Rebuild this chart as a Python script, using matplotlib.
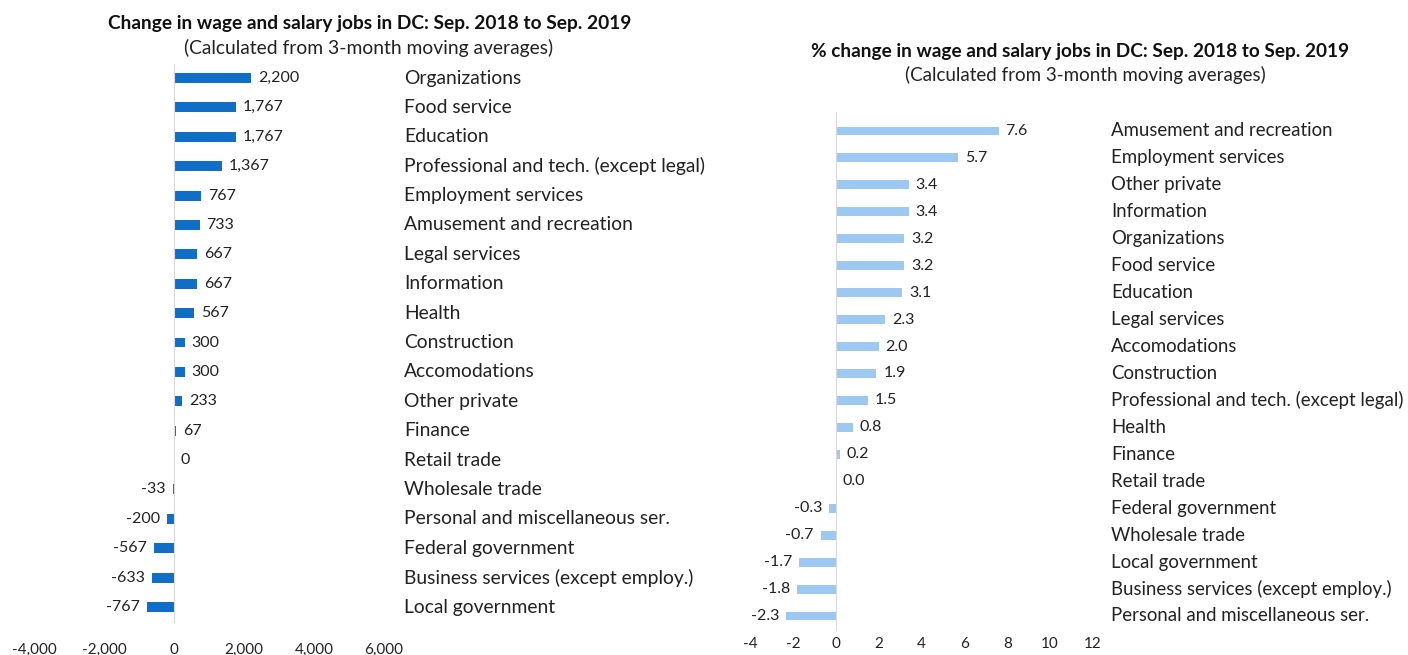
import matplotlib
matplotlib.use("Agg")
import matplotlib.pyplot as plt
import matplotlib.transforms as mtransforms
from matplotlib.ticker import FuncFormatter, MultipleLocator

plt.rcParams['font.family'] = ['Lato', 'DejaVu Sans']
plt.rcParams['axes.unicode_minus'] = False

# ── Datos ─────────────────────────────────────────────────
left_cats = ['Organizations', 'Food service', 'Education',
             'Professional and tech. (except legal)', 'Employment services',
             'Amusement and recreation', 'Legal services', 'Information',
             'Health', 'Construction', 'Accomodations', 'Other private',
             'Finance', 'Retail trade', 'Wholesale trade',
             'Personal and miscellaneous ser.', 'Federal government',
             'Business services (except employ.)', 'Local government']
left_vals = [2200, 1767, 1767, 1367, 767, 733, 667, 667, 567, 300, 300, 233,
             67, 0, -33, -200, -567, -633, -767]

right_cats = ['Amusement and recreation', 'Employment services', 'Other private',
              'Information', 'Organizations', 'Food service', 'Education',
              'Legal services', 'Accomodations', 'Construction',
              'Professional and tech. (except legal)', 'Health', 'Finance',
              'Retail trade', 'Federal government', 'Wholesale trade',
              'Local government', 'Business services (except employ.)',
              'Personal and miscellaneous ser.']
right_vals = [7.6, 5.7, 3.4, 3.4, 3.2, 3.2, 3.1, 2.3, 2.0, 1.9, 1.5, 0.8, 0.2,
              0.0, -0.3, -0.7, -1.7, -1.8, -2.3]

left_title = 'Change in wage and salary jobs in DC: Sep. 2018 to Sep. 2019'
right_title = '% change in wage and salary jobs in DC: Sep. 2018 to Sep. 2019'
subtitle = '(Calculated from 3-month moving averages)'

W, H = 1408, 655
fig = plt.figure(figsize=(W / 100, H / 100), dpi=100)


def px_axes(x0, x1, y0, y1):
    # caja en pixeles (origen arriba a la izquierda) -> fraccion de figura
    return fig.add_axes([x0 / W, 1 - y1 / H, (x1 - x0) / W, (y1 - y0) / H])


def panel(ax, cats, vals, color, xlim, step, fmt_tick, fmt_val,
          row0_px, rowN_px, top_px, bot_px, label_x_px, bar_h, pad_tick, cat_fs):
    n = len(cats)
    pos = list(range(n))
    ax.barh(pos, vals, height=bar_h, color=color)
    ax.set_xlim(*xlim)
    sp = (rowN_px - row0_px) / (n - 1)
    ax.set_ylim((bot_px - row0_px) / sp, (top_px - row0_px) / sp)
    ax.xaxis.set_major_locator(MultipleLocator(step))
    ax.xaxis.set_major_formatter(FuncFormatter(fmt_tick))
    ax.tick_params(axis='x', length=0, pad=pad_tick, labelsize=11, colors='#222222')
    ax.set_yticks([])
    for s in ['top', 'right', 'bottom']:
        ax.spines[s].set_visible(False)
    ax.spines['left'].set_position(('data', 0))
    ax.spines['left'].set_color('#D9D9D9')
    ax.patch.set_alpha(0)

    for i, v in enumerate(vals):
        if v < 0:
            ax.annotate(fmt_val(v), (v, i), xytext=(-5, 0), textcoords='offset points',
                        ha='right', va='center', fontsize=11.5, color='#222222')
        else:
            ax.annotate(fmt_val(v), (v, i), xytext=(5, 0), textcoords='offset points',
                        ha='left', va='center', fontsize=11.5, color='#222222')

    tr = mtransforms.blended_transform_factory(fig.transFigure, ax.transData)
    for i, c in enumerate(cats):
        ax.text(label_x_px / W, i, c, transform=tr, ha='left', va='center',
                fontsize=cat_fs, color='#222222')


# ── Panel izquierdo ───────────────────────────────────────
ax1 = px_axes(34, 384, 64, 622)
panel(ax1, left_cats, left_vals, '#0F6FC6', (-4000, 6000), 2000,
      lambda x, p: f'{x:,.0f}', lambda v: f'{v:,.0f}',
      78, 607, 64, 622, 404, 0.34, 15, 13.9)

# ── Panel derecho ─────────────────────────────────────────
ax2 = px_axes(750, 1093, 112, 630)
panel(ax2, right_cats, right_vals, '#9DC8F2', (-4, 12), 2,
      lambda x, p: f'{x:.0f}', lambda v: f'{v:.1f}',
      131, 616, 112, 630, 1111, 0.33, 5, 13.4)

# ── Titulos ───────────────────────────────────────────────
fig.text(370 / W, 1 - 23 / H, left_title, ha='center', va='center',
         fontsize=13.8, fontweight='bold', color='#111111')
fig.text(369 / W, 1 - 48 / H, subtitle, ha='center', va='center',
         fontsize=13.9, color='#222222')
fig.text(1080 / W, 1 - 51 / H, right_title, ha='center', va='center',
         fontsize=13.7, fontweight='bold', color='#111111')
fig.text(1085 / W, 1 - 75 / H, subtitle, ha='center', va='center',
         fontsize=13.5, color='#222222')

fig.savefig('out.png', dpi=100)
